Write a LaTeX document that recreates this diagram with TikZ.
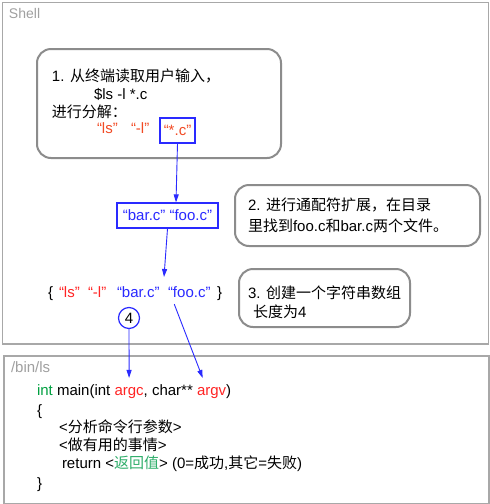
\documentclass[tikz,border=0pt]{standalone}
\usepackage{fontspec}
\setmainfont{Liberation Sans}
\newfontfamily\cjk{Noto Sans CJK SC}
\usetikzlibrary{arrows.meta}
\definecolor{bgray}{HTML}{A8A8A8}
\definecolor{rgray}{HTML}{8C8C8C}
\definecolor{tgray}{HTML}{A0A0A0}
\definecolor{myblue}{HTML}{2A2AFF}
\definecolor{myred}{HTML}{FF2424}
\definecolor{myorange}{HTML}{F24A24}
\definecolor{mygreen}{HTML}{00A040}
\definecolor{mygreen2}{HTML}{2EAE6A}
\begin{document}
\begin{tikzpicture}[x=1pt,y=-1pt,font=\fontsize{15}{18}\selectfont,
  txt/.style={inner sep=0pt,outer sep=0pt,anchor=base west},
  frame/.style={draw=bgray,line width=1.6pt,anchor=north west,inner sep=0pt},
  bubble/.style={draw=rgray,line width=2pt,rounded corners=14pt,anchor=north west,inner sep=0pt},
  bluebox/.style={draw=myblue,line width=1.2pt,inner sep=0pt},
  arr/.style={draw=myblue,line width=0.9pt,-{Triangle[length=8pt,width=5pt]}}]
\useasboundingbox (0,0) rectangle (490,504);
\fill[white] (0,0) rectangle (490,504);
% frames
\node[frame,minimum width=486pt,minimum height=341.5pt] (shell) at (1.5,1.5) {};
\node[frame,minimum width=485pt,minimum height=147.5pt] (bin) at (3,355) {};
\node[txt,text=tgray,font=\fontsize{14}{16}\selectfont] (shelltitle) at (9,18) {Shell};
\node[txt,text=tgray] (bintitle) at (11,372) {/bin/ls};
% bubbles
\node[bubble,minimum width=244pt,minimum height=109pt] (b1) at (36,48) {};
\node[bubble,minimum width=245pt,minimum height=61pt] (b2) at (234,184) {};
\node[bubble,minimum width=171pt,minimum height=58pt] (b3) at (238,268) {};
% bubble 1 text
\node[txt] (t11) at (52,81) {1. {\cjk 从终端读取用户输入，}};
\node[txt] (t12) at (94,99) {\$ls -l *.c};
\node[txt] (t13) at (52,117) {{\cjk 进行分解：}};
\node[txt,text=myorange] (pls) at (97,133) {“ls”};
\node[txt,text=myorange] (pl) at (131,133) {“-l”};
\node[bluebox,text=myorange,minimum width=35pt,minimum height=25pt] (starc) at (177.5,130.5) {“*.c”};
% bubble 2 text
\node[txt] (t21) at (248,210) {2. {\cjk 进行通配符扩展，在目录}};
\node[txt] (t22) at (248,231) {{\cjk 里找到}foo.c{\cjk 和}bar.c{\cjk 两个文件。}};
% bubble 3 text
\node[txt] (t31) at (248,298) {3. {\cjk 创建一个字符串数组}};
\node[txt] (t32) at (253,317) {{\cjk 长度为}4};
% expanded box
\node[bluebox,text=myblue,minimum width=101pt,minimum height=25pt] (barfoo) at (167.5,215.5) {“bar.c” “foo.c”};
% array
\node[txt] (lb) at (48,297) {\{};
\node[txt,text=myred] (als) at (59,297) {“ls”};
\node[txt,text=myred] (al) at (88,297) {“-l”};
\node[txt,text=myblue] (abar) at (117,297) {“bar.c”};
\node[txt,text=myblue] (afoo) at (168,297) {“foo.c”};
\node[txt] (rb) at (217,297) {\}};
\node[draw=myblue,line width=1.2pt,circle,minimum size=21pt,inner sep=0pt] (four) at (129,318) {4};
\coordinate (arrtop) at (164,277);
% code
\node[txt,text=mygreen] (kint) at (37,395) {int};
\node[txt] (k1) at (kint.base east) {\ main(int\ \mbox{}};
\node[txt,text=myred] (kargc) at (k1.base east) {argc};
\node[txt] (k2) at (kargc.base east) {,\ char**\ \mbox{}};
\node[txt,text=myred] (kargv) at (k2.base east) {argv};
\node[txt] (k3) at (kargv.base east) {)};
\node[txt] (ob) at (37,415) {\{};
\node[txt] (c1) at (59,432) {<{\cjk 分析命令行参数}>};
\node[txt] (c2) at (59,450) {<{\cjk 做有用的事情}>};
\node[txt] (c3) at (62,468) {return <\textcolor{mygreen2}{\cjk 返回值}> (0={\cjk 成功},{\cjk 其它}={\cjk 失败})};
\node[txt] (cb) at (37,488) {\}};
% arrows
\draw[arr] (starc.south) -- ([xshift=8.5pt]barfoo.north);
\draw[arr] (barfoo.south) -- (arrtop);
\draw[arr] (four.south) -- ([yshift=9pt]kargc.north);
\draw[arr] ([xshift=-15pt,yshift=-7pt]afoo.south) -- ([xshift=-9pt,yshift=9pt]kargv.north);
\end{tikzpicture}
\end{document}
